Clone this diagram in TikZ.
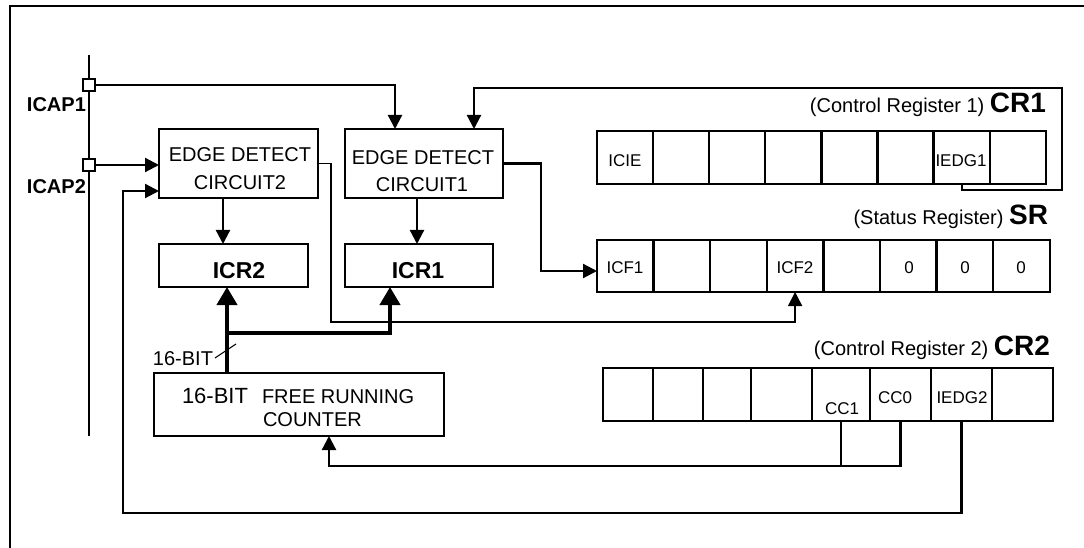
\documentclass[tikz,border=0pt]{standalone}
\usepackage{fontspec}
\setmainfont{Liberation Sans}
\usetikzlibrary{arrows.meta}
\begin{document}
\begin{tikzpicture}[x=1pt,y=-1pt,
  every node/.style={inner sep=0pt,outer sep=0pt},
  reg/.style={font=\fontsize{20}{24}\selectfont},
  sml/.style={font=\fontsize{17}{20}\selectfont},
  lbl/.style={font=\bfseries\fontsize{20}{24}\selectfont},
  icr/.style={font=\bfseries\fontsize{23}{26}\selectfont},
  box/.style={draw,line width=2.3pt,rectangle,anchor=north west},
  cell/.style={draw,line width=2.3pt,rectangle,anchor=north west},
  wire/.style={line width=2.2pt},
  arr/.style={line width=2.2pt,-{Triangle[length=14pt,width=14pt]}},
  thinwire/.style={line width=1.5pt,-{Triangle[length=14pt,width=14pt]}},
  bus/.style={line width=4pt,-{Triangle[length=18pt,width=20pt]}},
]
\useasboundingbox (0,0) rectangle (1084,548);
% frame
\draw[line width=2.4pt] (10,560) -- (10,6) -- (1100,6);

% input line and pins
\draw[wire] (89,55) -- (89,436);
\node[draw,line width=1.8pt,fill=white,minimum size=12pt] (pin1) at (89,85) {};
\node[draw,line width=1.8pt,fill=white,minimum size=12pt] (pin2) at (89,165) {};
\node[lbl,anchor=base west] (licap1) at (27,112) {ICAP1};
\node[lbl,anchor=base west] (licap2) at (27,194) {ICAP2};

% boxes
\node[box,minimum width=159pt,minimum height=69pt] (c2) at (159,129) {};
\node[box,minimum width=158pt,minimum height=69pt] (c1) at (345,129) {};
\node[box,minimum width=149pt,minimum height=43pt] (icr2) at (159,244) {};
\node[box,minimum width=148pt,minimum height=43pt] (icr1) at (345,244) {};
\node[box,minimum width=290pt,minimum height=63pt] (cnt) at (154,373) {};

\node[reg,anchor=base] (t2a) at (240,162) {EDGE DETECT};
\node[reg,anchor=base] (t2b) at (240,190) {CIRCUIT2};
\node[reg,anchor=base] (t1a) at (423,165) {EDGE DETECT};
\node[reg,anchor=base] (t1b) at (422,192) {CIRCUIT1};
\node[icr,anchor=base] (ticr2) at (239,278) {ICR2};
\node[icr,anchor=base] (ticr1) at (418,278) {ICR1};
\node[anchor=base west,font=\fontsize{22}{24}\selectfont] (tc1) at (182,403) {16-BIT};
\node[reg,anchor=base west] (tc2) at (262,403) {FREE RUNNING};
\node[reg,anchor=base west] (tc3) at (263,426) {COUNTER};

% registers
\foreach \i in {1,...,8}
  \node[cell,minimum width=56.1pt,minimum height=53pt] (cra\i) at ({597+(\i-1)*56.1},131) {};
\foreach \i in {1,...,8}
  \node[cell,minimum width=56.6pt,minimum height=52pt] (sra\i) at ({597+(\i-1)*56.6},240) {};
\foreach \i/\a/\b in {1/603/653,2/653/703,3/703/751,4/751/812,5/812/870,6/870/931,7/931/992,8/992/1053}
  \node[cell,minimum width={\b-\a},minimum height=53pt] (crb\i) at (\a,368) {};

\node[reg,anchor=base east] (hcr1) at (1046,113) {(Control Register 1) {\bfseries\fontsize{28}{30}\selectfont CR1}};
\node[reg,anchor=base east] (hsr) at (1048,225) {(Status Register) {\bfseries\fontsize{28}{30}\selectfont SR}};
\node[reg,anchor=base east] (hcr2) at (1050,355) {(Control Register 2) {\bfseries\fontsize{28}{30}\selectfont CR2}};

\node[sml,anchor=base] (xicie) at (625,167) {ICIE};
\node[sml,anchor=base] (xiedg1) at (961,167) {IEDG1};
\node[sml,anchor=base] (xicf1) at (625,273) {ICF1};
\node[sml,anchor=base] (xicf2) at (795,273) {ICF2};
\node[sml,anchor=base] (xz1) at (909,273) {0};
\node[sml,anchor=base] (xz2) at (965,273) {0};
\node[sml,anchor=base] (xz3) at (1021,273) {0};
\node[sml,anchor=base] (xcc1) at (842,414) {CC1};
\node[sml,anchor=base] (xcc0) at (895,403) {CC0};
\node[sml,anchor=base] (xiedg2) at (962,403) {IEDG2};

% connectors
\coordinate (loop1) at (1062,88);
\coordinate (d2) at (331,322);
\coordinate (d1) at (541,271);
\coordinate (j) at (227,333);
\coordinate (lp2) at (123,191);

\draw[arr] (pin1.east) -| ([xshift=50pt]c1.north west);
\draw[arr] (pin2.east) -- (pin2.east -| c2.west);
\draw[arr] (cra7.south) -- ++(0,6) -| (loop1) -| ([xshift=129pt]c1.north west);
\draw[arr] ([xshift=64pt]c2.south west) -- ([xshift=64pt]icr2.north west);
\draw[arr] ([xshift=72pt]c1.south west) -- ([xshift=72pt]icr1.north west);
\draw[thinwire] (c2.east) -| (d2) -| (sra4.south);
\draw[arr] (c1.east) -| (d1) -- ([yshift=-5pt]sra1.west);
\draw[bus] ([xshift=73pt]cnt.north west) -- ([xshift=68pt]icr2.south west);
\draw[bus] ([xshift=-2pt]j) -| ([xshift=45pt]icr1.south west);
\draw[line width=1pt] (215,358) -- (236,344);
\node[reg,anchor=base east] (t16) at (213,365) {16-BIT};
\draw[wire] (crb5.south) -- ++(0,45);
\draw[arr] (crb6.south) -- ++(0,45) -| ([xshift=175pt]cnt.south west);
\draw[arr] (crb7.south) -- ++(0,92) -| (lp2) -- ([yshift=-27.5pt]c2.west);
\end{tikzpicture}
\end{document}
